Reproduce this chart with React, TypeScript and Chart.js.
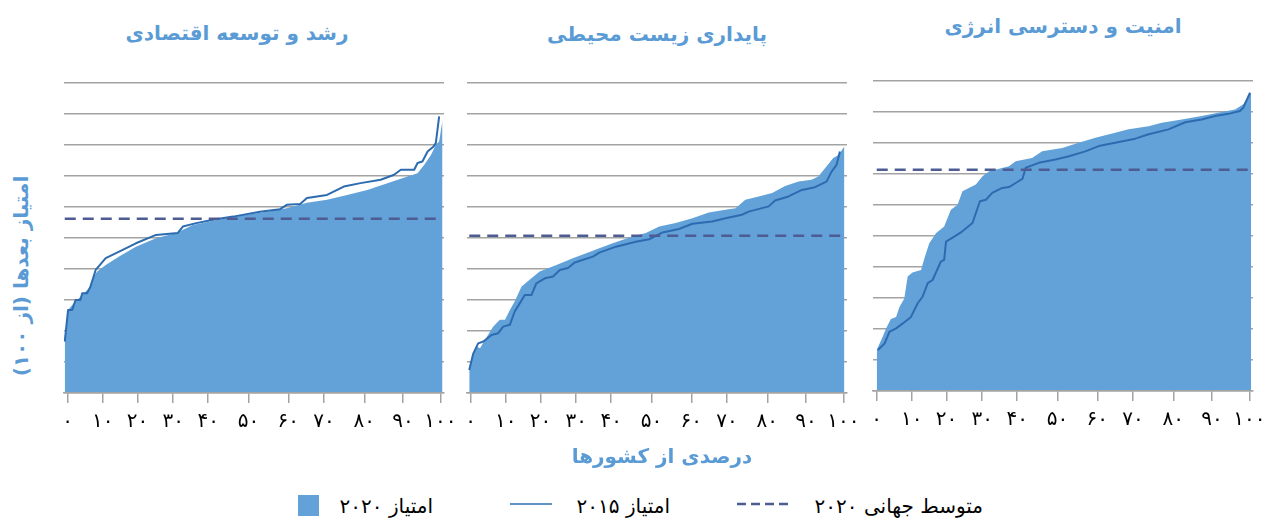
import React, { useEffect, useRef } from 'react';
import { Chart, registerables } from 'chart.js';

Chart.register(...registerables);

// ---------- tick labels & titles ----------
const TICK_VALUES = [0, 9.4, 18.7, 28.3, 37.7, 48.5, 59.2, 68.8, 79.6, 90.0, 100];
const TICK_LABELS = ['۰', '۱۰', '۲۰', '۳۰', '۴۰', '۵۰', '۶۰', '۷۰', '۸۰', '۹۰', '۱۰۰'];
const PANEL_TITLES = ['رشد و توسعه اقتصادی', 'پایداری زیست محیطی', 'امنیت و دسترسی انرژی'];
const Y_TITLE = 'امتیاز بعدها (از ۱۰۰)';
const X_TITLE = 'درصدی از کشورها';
const LEGEND_LABELS = ['امتیاز ۲۰۲۰', 'امتیاز ۲۰۱۵', 'متوسط جهانی ۲۰۲۰'];

// ---------- world average 2020 (per panel) ----------
const WORLD_AVG_2020 = [56.2, 50.7, 71.4];

// ---------- panel 1: economic growth ----------
const ECON_2020_X = [-0.8, 0.1, 1.2, 2.5, 3.9, 5.7, 7.0, 7.9, 10.2, 13.8, 18.3, 23.7, 29.1, 33.6, 38.1, 42.6, 48.0, 53.4, 58.8, 64.2, 69.6, 75.0, 80.4, 85.8, 91.2, 93.9, 95.7, 97.5, 98.8, 99.7, 100.6];
const ECON_2020_Y = [16.0, 26.8, 28.4, 30.0, 31.6, 33.8, 37.6, 39.2, 41.3, 44.0, 47.2, 49.9, 51.6, 54.2, 55.3, 56.4, 57.5, 58.5, 59.6, 61.4, 62.3, 63.9, 65.5, 67.7, 69.8, 70.9, 73.6, 76.8, 80.1, 81.1, 88.1];
const ECON_2015_X = [-0.8, 0.1, 1.2, 2.1, 3.4, 3.9, 5.2, 6.1, 7.5, 10.2, 13.8, 18.3, 23.7, 29.5, 30.9, 34.5, 39.0, 44.4, 51.6, 57.0, 58.8, 62.4, 64.2, 69.6, 74.1, 78.6, 84.0, 87.6, 89.4, 93.0, 93.9, 95.2, 96.6, 98.2, 98.8, 99.7];
const ECON_2015_Y = [16.6, 26.8, 26.8, 30.0, 30.0, 32.2, 32.2, 34.3, 39.7, 43.5, 45.6, 48.3, 51.0, 51.6, 53.7, 54.8, 55.9, 56.9, 58.5, 59.3, 60.7, 61.0, 62.9, 63.9, 66.6, 67.7, 68.8, 70.4, 72.0, 72.0, 74.2, 74.7, 77.9, 79.5, 80.6, 89.2];

// ---------- panel 2: environmental sustainability ----------
const ENV_2020_X = [-0.4, 0.3, 1.6, 2.5, 3.8, 6.0, 7.8, 9.2, 10.5, 11.8, 13.6, 15.8, 18.5, 23.0, 27.4, 31.0, 34.5, 38.1, 43.4, 47.0, 50.6, 55.0, 59.5, 63.9, 68.4, 71.1, 73.7, 77.3, 80.9, 84.4, 88.0, 91.5, 93.3, 95.1, 97.3, 98.7, 100.3];
const ENV_2020_Y = [7.4, 11.7, 15.0, 14.4, 17.1, 21.4, 23.6, 23.6, 26.8, 29.5, 34.3, 36.5, 39.2, 41.3, 43.5, 45.1, 46.7, 48.3, 50.5, 51.6, 53.7, 54.8, 56.4, 58.2, 59.1, 59.6, 62.3, 63.4, 64.5, 66.8, 68.2, 68.8, 69.8, 72.5, 75.8, 76.8, 79.5];
const ENV_2015_X = [-0.4, 0.7, 2.0, 3.4, 5.6, 7.4, 8.7, 10.5, 11.8, 13.2, 14.5, 16.3, 17.6, 19.9, 22.1, 23.9, 26.1, 27.9, 32.8, 34.5, 39.0, 44.3, 47.9, 51.5, 55.9, 59.5, 64.8, 68.4, 72.8, 74.6, 80.0, 81.7, 85.3, 88.9, 92.4, 95.5, 96.9, 98.2, 99.1];
const ENV_2015_Y = [7.4, 12.8, 16.0, 16.6, 18.7, 19.3, 21.4, 22.0, 26.3, 29.0, 31.6, 31.6, 35.4, 37.0, 37.6, 39.7, 40.3, 42.1, 44.0, 45.3, 47.2, 48.8, 49.6, 51.8, 52.9, 54.6, 55.3, 56.4, 57.5, 58.5, 60.2, 62.1, 63.4, 65.5, 66.4, 68.2, 71.5, 73.6, 77.9];

// ---------- panel 3: energy security & access ----------
const ENERGY_2020_X = [0, 1.6, 2.5, 3.8, 5.2, 6.1, 7.4, 8.3, 9.6, 11.9, 12.8, 14.1, 15.9, 18.1, 19.9, 21.7, 23.0, 26.6, 28.4, 30.2, 35.5, 37.3, 41.7, 44.4, 49.8, 54.2, 58.7, 64.0, 67.6, 73.0, 76.5, 81.9, 87.2, 92.6, 96.2, 98.4, 100.5];
const ENERGY_2020_Y = [13.2, 17.5, 20.2, 23.2, 23.9, 27.1, 29.8, 36.9, 38.2, 39.0, 42.8, 47.7, 50.9, 53.1, 58.5, 60.1, 64.4, 66.6, 69.3, 70.9, 72.5, 74.1, 75.2, 77.3, 78.4, 80.1, 81.7, 83.3, 84.4, 85.4, 86.5, 87.6, 88.7, 90.0, 90.8, 92.5, 96.4];
const ENERGY_2015_X = [0.3, 2.1, 3.4, 5.2, 7.0, 9.2, 11.0, 12.3, 13.7, 15.0, 17.2, 18.1, 18.6, 20.8, 23.0, 25.7, 27.7, 29.3, 31.0, 33.7, 35.5, 37.3, 39.1, 40.0, 43.5, 48.0, 51.6, 56.0, 59.6, 64.0, 69.4, 73.0, 78.3, 82.8, 87.2, 90.8, 94.4, 97.5, 98.4, 100.2];
const ENERGY_2015_Y = [13.2, 15.3, 19.1, 20.2, 21.8, 23.9, 28.3, 30.4, 34.8, 35.8, 41.7, 42.3, 48.2, 49.8, 51.5, 54.2, 61.2, 61.7, 63.9, 65.5, 65.8, 67.1, 68.4, 72.0, 73.6, 74.7, 75.7, 77.3, 79.0, 80.1, 81.4, 82.8, 84.4, 86.7, 87.6, 88.7, 89.4, 90.3, 91.4, 96.2];

// ---------- styles ----------
const FONT = "'DejaVu Sans', sans-serif";
const FILL_COLOR = '#63A2D8';
const LINE_COLOR = '#2D6BB1';
const DASH_COLOR = '#4D5D94';
const GRID_COLOR = '#A3A3A3';
const TITLE_COLOR = '#5B9BD5';

const PAD_L = 12;
const PAD_R = 18;
const PAD_T = 6;
const PLOT_W = 380;
const PLOT_H = 310;
const XAXIS_H = 50;
const CANVAS_W = PAD_L + PLOT_W + PAD_R;
const CANVAS_H = PAD_T + PLOT_H + XAXIS_H;

type PanelProps = {
  plotLeft: number;
  plotTop: number;
  fillX: number[];
  fillY: number[];
  lineX: number[];
  lineY: number[];
  avg: number;
};

function Panel({ plotLeft, plotTop, fillX, fillY, lineX, lineY, avg }: PanelProps) {
  const ref = useRef<HTMLCanvasElement>(null);
  useEffect(() => {
    if (!ref.current) return;
    const fillData = fillX.map((x, i) => ({ x, y: fillY[i] }));
    const lineData = lineX.map((x, i) => ({ x, y: lineY[i] }));
    const x0 = Math.min(fillX[0], lineX[0]);
    const x1 = Math.max(fillX[fillX.length - 1], lineX[lineX.length - 1]);
    const avgData = [{ x: x0, y: avg }, { x: x1, y: avg }];
    const chart = new Chart(ref.current, {
      type: 'line',
      data: {
        datasets: [
          {
            label: 'avg',
            data: avgData,
            borderColor: DASH_COLOR,
            borderWidth: 2.5,
            borderDash: [11, 7],
            pointRadius: 0,
            fill: false,
          },
          {
            label: '2015',
            data: lineData,
            borderColor: LINE_COLOR,
            borderWidth: 2,
            pointRadius: 0,
            fill: false,
            borderJoinStyle: 'round',
          },
          {
            label: '2020',
            data: fillData,
            borderColor: 'rgba(0,0,0,0)',
            borderWidth: 0,
            backgroundColor: FILL_COLOR,
            pointRadius: 0,
            fill: 'origin',
          },
        ],
      },
      options: {
        responsive: false,
        animation: false,
        events: [],
        layout: { padding: { left: PAD_L, right: PAD_R, top: PAD_T, bottom: 0 } },
        plugins: {
          legend: { display: false },
          tooltip: { enabled: false },
          title: { display: false },
        },
        scales: {
          x: {
            type: 'linear',
            min: -1,
            max: 101,
            afterBuildTicks: (s: any) => {
              s.ticks = TICK_VALUES.map((v) => ({ value: v }));
            },
            afterFit: (s: any) => {
              s.height = XAXIS_H;
              s.paddingLeft = 0;
              s.paddingRight = 0;
            },
            ticks: {
              callback: (_v: any, i: number) => TICK_LABELS[i],
              font: { family: FONT, size: 20 },
              color: '#000',
              padding: 7,
              maxRotation: 0,
              autoSkip: false,
            },
            grid: {
              drawOnChartArea: false,
              drawTicks: true,
              tickLength: 10,
              color: GRID_COLOR,
              lineWidth: 1.5,
            },
            border: { display: true, color: GRID_COLOR, width: 1.5, z: 1 },
          },
          y: {
            min: 0,
            max: 100,
            afterFit: (s: any) => {
              s.width = 0;
            },
            ticks: { display: false, stepSize: 10 },
            grid: { color: GRID_COLOR, lineWidth: 1.5, drawTicks: false },
            border: { display: false },
          },
        },
      } as any,
    });
    return () => chart.destroy();
  }, []);
  return (
    <canvas
      ref={ref}
      width={CANVAS_W}
      height={CANVAS_H}
      style={{
        position: 'absolute',
        left: plotLeft - PAD_L,
        top: plotTop - PAD_T,
        width: CANVAS_W,
        height: CANVAS_H,
      }}
    />
  );
}

function Text({
  text,
  cx,
  right,
  baseline,
  size,
  bold,
  color,
}: {
  text: string;
  cx?: number;
  right?: number;
  baseline: number;
  size: number;
  bold?: boolean;
  color: string;
}) {
  const L = 30;
  const top = baseline - L / 2 - 0.346 * size;
  const w = 400;
  const style: React.CSSProperties = {
    position: 'absolute',
    top,
    height: L,
    lineHeight: `${L}px`,
    width: w,
    fontFamily: FONT,
    fontSize: size,
    fontWeight: bold ? 'bold' : 'normal',
    color,
    direction: 'rtl',
    whiteSpace: 'nowrap',
  };
  if (cx !== undefined) {
    style.left = cx - w / 2;
    style.textAlign = 'center';
  } else if (right !== undefined) {
    style.left = right - w;
    style.textAlign = 'right';
  }
  return <div style={style}>{text}</div>;
}

export default function App() {
  return (
    <div
      style={{
        position: 'absolute',
        left: 0,
        top: 0,
        width: 1268,
        height: 520,
        background: '#fff',
        overflow: 'hidden',
      }}
    >
      <Panel plotLeft={64} plotTop={83} fillX={ECON_2020_X} fillY={ECON_2020_Y} lineX={ECON_2015_X} lineY={ECON_2015_Y} avg={WORLD_AVG_2020[0]} />
      <Panel plotLeft={467} plotTop={83} fillX={ENV_2020_X} fillY={ENV_2020_Y} lineX={ENV_2015_X} lineY={ENV_2015_Y} avg={WORLD_AVG_2020[1]} />
      <Panel plotLeft={873} plotTop={81} fillX={ENERGY_2020_X} fillY={ENERGY_2020_Y} lineX={ENERGY_2015_X} lineY={ENERGY_2015_Y} avg={WORLD_AVG_2020[2]} />

      <Text text={PANEL_TITLES[0]} cx={237} baseline={40} size={20} bold color={TITLE_COLOR} />
      <Text text={PANEL_TITLES[1]} cx={657} baseline={41} size={20} bold color={TITLE_COLOR} />
      <Text text={PANEL_TITLES[2]} cx={1063} baseline={33} size={20} bold color={TITLE_COLOR} />

      <Text text={X_TITLE} cx={662} baseline={463} size={20} bold color={TITLE_COLOR} />

      <div
        style={{
          position: 'absolute',
          left: 21 - 200,
          top: 276 - 15,
          width: 400,
          height: 30,
          lineHeight: '30px',
          textAlign: 'center',
          fontFamily: FONT,
          fontSize: 20,
          fontWeight: 'bold',
          color: TITLE_COLOR,
          direction: 'rtl',
          whiteSpace: 'nowrap',
          transform: 'rotate(-90deg)',
        }}
      >
        {Y_TITLE}
      </div>

      {/* legend */}
      <div style={{ position: 'absolute', left: 298, top: 495, width: 21, height: 21, background: FILL_COLOR }} />
      <Text text={LEGEND_LABELS[0]} right={433} baseline={513} size={20} color="#000" />
      <svg style={{ position: 'absolute', left: 510, top: 498 }} width={42} height={12}>
        <line x1={0} y1={6} x2={42} y2={6} stroke={LINE_COLOR} strokeWidth={1.6} />
      </svg>
      <Text text={LEGEND_LABELS[1]} right={670} baseline={513} size={20} color="#000" />
      <svg style={{ position: 'absolute', left: 737, top: 498 }} width={52} height={12}>
        <line x1={0} y1={6} x2={52} y2={6} stroke={DASH_COLOR} strokeWidth={2.5} strokeDasharray="9 5" />
      </svg>
      <Text text={LEGEND_LABELS[2]} right={983} baseline={513} size={20} color="#000" />
    </div>
  );
}
